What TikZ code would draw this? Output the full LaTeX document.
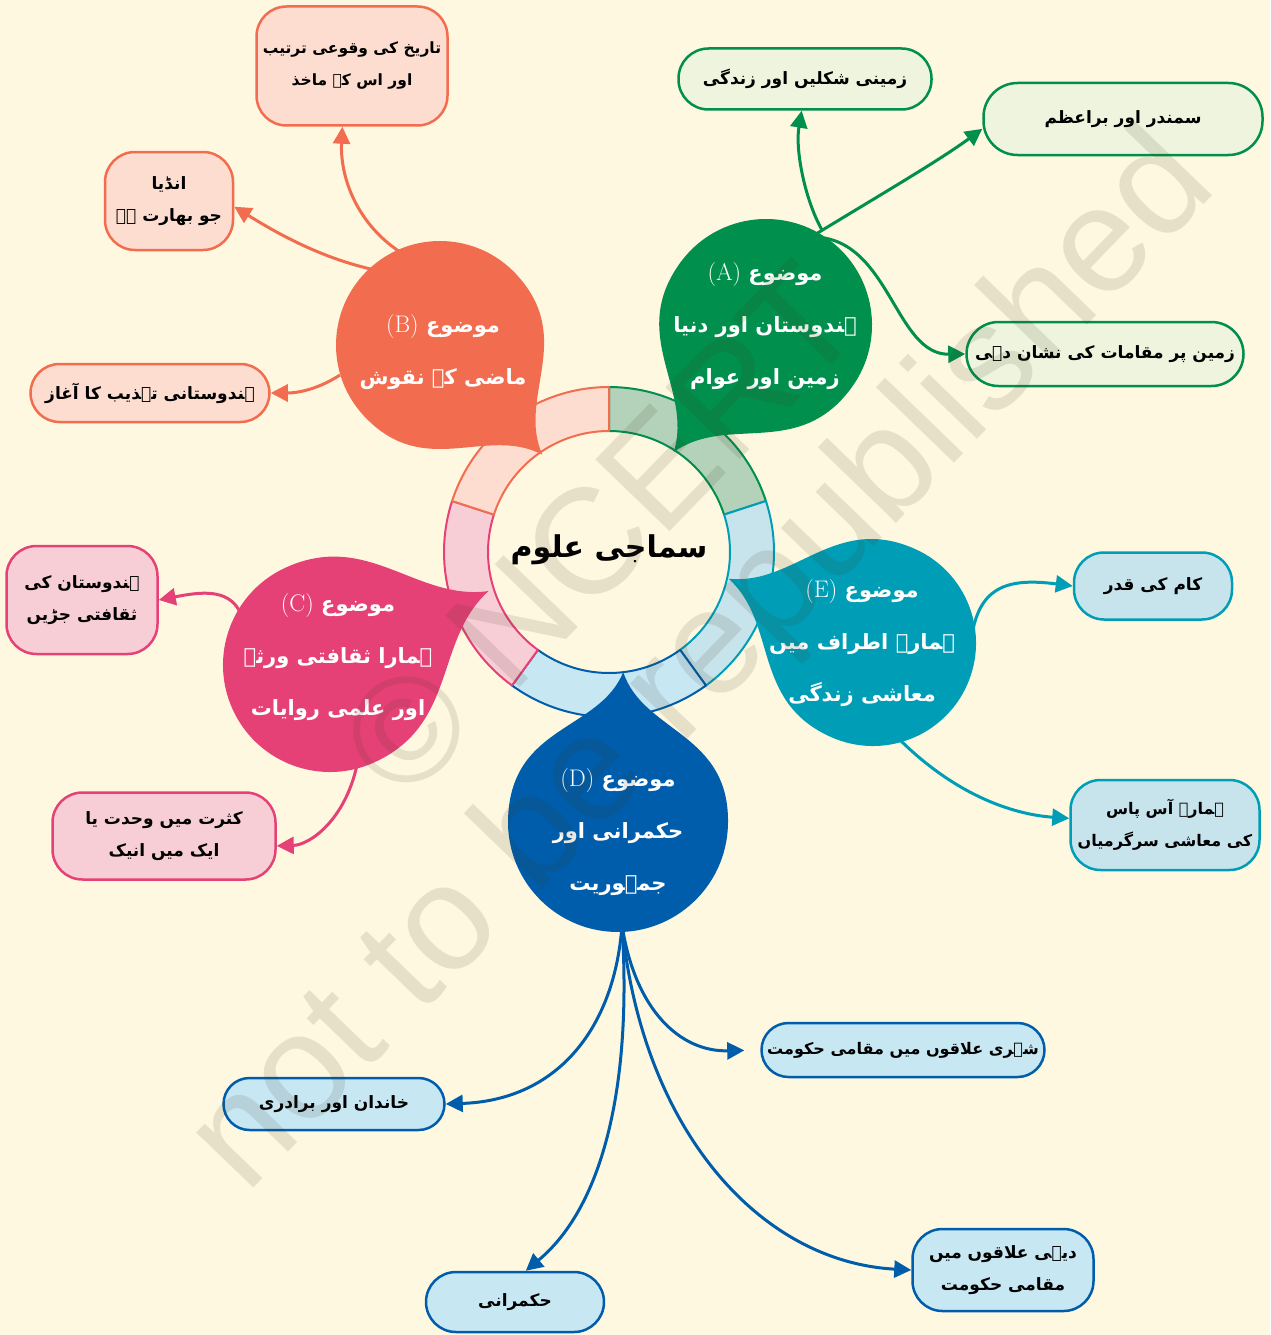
\documentclass[tikz,border=0pt]{standalone}
\usepackage{fontspec}
\usetikzlibrary{arrows.meta}
\TeXXeTstate=1
\newfontfamily\ur[Script=Arabic]{DejaVu Sans}
\newfontfamily\wmfont{Liberation Sans}
\definecolor{bg}{HTML}{FEF8E0}
\definecolor{cA}{HTML}{008F4C}
\definecolor{cB}{HTML}{F26D4F}
\definecolor{cC}{HTML}{E64177}
\definecolor{cD}{HTML}{005DAB}
\definecolor{cE}{HTML}{009EB6}
\definecolor{fA}{HTML}{EEF4DE}
\definecolor{rA}{HTML}{B4D2BA}
\definecolor{fB}{HTML}{FDDDD0}
\definecolor{fC}{HTML}{F8CED6}
\definecolor{fD}{HTML}{C7E7F3}
\definecolor{fE}{HTML}{C7E4EC}
\definecolor{wmcol}{RGB}{60,55,30}
\newcommand\U[1]{\beginR#1\endR}
\newcommand\Lt[1]{\beginL{\rmfamily\mdseries\fontsize{24}{24}\selectfont #1}\endL}
\newcommand\ringseg[4]{%
  \filldraw[fill=#3, draw=#4, line width=2pt, line join=round]
    plot[domain=#1:#2, samples=40] ({609+165*cos(\x)},{552+165*sin(\x)})
    -- plot[domain=#2:#1, samples=40] ({609+121*cos(\x)},{552+121*sin(\x)}) -- cycle;}
\newcommand\mydrop[6]{%
  \begin{scope}[shift={(#2,#3)}, x={({-(#5)}:1pt)}, y={({-(#5)-90}:1pt)}]
  \fill[#1] (#6,0) .. controls ({0.6*#6},{0.2*#4}) and ({0.85*#4},{#4}) .. (0,#4)
    .. controls ({-0.5523*#4},{#4}) and ({-#4},{0.5523*#4}) .. ({-#4},0)
    .. controls ({-#4},{-0.5523*#4}) and ({-0.5523*#4},{-#4}) .. (0,{-#4})
    .. controls ({0.85*#4},{-#4}) and ({0.6*#6},{-0.2*#4}) .. (#6,0) -- cycle;
  \end{scope}}
\tikzset{
  conn/.style={line width=3pt, -{Triangle[length=17pt,width=17pt]}},
  box/.style={line width=2.5pt, align=center, inner sep=0pt, text=black,
    font=\ur\bfseries\fontsize{17}{32}\selectfont},
  droptext/.style={align=center, text=white, font=\ur\bfseries\fontsize{21}{52}\selectfont},
  wm/.style={font=\wmfont\fontsize{150}{150}\selectfont, text=wmcol, text opacity=0.12, inner sep=0pt}
}
\begin{document}
\begin{tikzpicture}[x=1pt,y=-1pt]
\useasboundingbox (0,0) rectangle (1270,1335);
\fill[bg] (0,0) rectangle (1270,1335);
% ring
\ringseg{-90}{-18}{rA}{cA}
\ringseg{-18}{54}{fE}{cE}
\ringseg{54}{126}{fD}{cD}
\ringseg{126}{198}{fC}{cC}
\ringseg{198}{270}{fB}{cB}
\node[font=\ur\bfseries\fontsize{30}{40}\selectfont] (centre) at (609,550) {\U{سماجی علوم}};
% boxes
\node[box, draw=cB, fill=fB, rounded corners=30pt, minimum width=191pt, minimum height=119pt, font=\ur\bfseries\fontsize{15.5}{32}\selectfont] (B1) at (352,66) {\U{تاریخ کی وقوعی ترتیب}\\\U{اور اس کے ماخذ}};
\node[box, draw=cB, fill=fB, rounded corners=30pt, minimum width=128pt, minimum height=98pt] (B2) at (169,201) {\U{انڈیا}\\\U{جو بھارت ہے}};
\node[box, draw=cB, fill=fB, rounded corners=29pt, minimum width=239pt, minimum height=58pt] (B3) at (150,393) {\U{ہندوستانی تہذیب کا آغاز}};
\node[box, draw=cA, fill=fA, rounded corners=30pt, minimum width=253pt, minimum height=61pt] (A1) at (805,79) {\U{زمینی شکلیں اور زندگی}};
\node[box, draw=cA, fill=fA, rounded corners=34pt, minimum width=279pt, minimum height=72pt] (A2) at (1123,119) {\U{سمندر اور براعظم}};
\node[box, draw=cA, fill=fA, rounded corners=32pt, minimum width=277pt, minimum height=64pt] (A3) at (1105,354) {\U{زمین پر مقامات کی نشان دہی}};
\node[box, draw=cC, fill=fC, rounded corners=30pt, minimum width=151pt, minimum height=108pt] (C1) at (82,600) {\U{ہندوستان کی}\\\U{ثقافتی جڑیں}};
\node[box, draw=cC, fill=fC, rounded corners=30pt, minimum width=223pt, minimum height=87pt] (C2) at (164,836) {\U{کثرت میں وحدت یا}\\\U{ایک میں انیک}};
\node[box, draw=cE, fill=fE, rounded corners=30pt, minimum width=158pt, minimum height=67pt] (E1) at (1153,586) {\U{کام کی قدر}};
\node[box, draw=cE, fill=fE, rounded corners=30pt, minimum width=189pt, minimum height=90pt, font=\ur\bfseries\fontsize{16}{32}\selectfont] (E2) at (1165,825) {\U{ہمارے آس پاس}\\\U{کی معاشی سرگرمیاں}};
\node[box, draw=cD, fill=fD, rounded corners=27pt, minimum width=283pt, minimum height=54pt, font=\ur\bfseries\fontsize{16}{32}\selectfont] (D1) at (903,1050) {\U{شہری علاقوں میں مقامی حکومت}};
\node[box, draw=cD, fill=fD, rounded corners=26pt, minimum width=221pt, minimum height=52pt] (D2) at (334,1104) {\U{خاندان اور برادری}};
\node[box, draw=cD, fill=fD, rounded corners=30pt, minimum width=178pt, minimum height=60pt] (D3) at (515,1302) {\U{حکمرانی}};
\node[box, draw=cD, fill=fD, rounded corners=30pt, minimum width=181pt, minimum height=82pt] (D4) at (1003,1270) {\U{دیہی علاقوں میں}\\\U{مقامی حکومت}};
% connector origins
\coordinate (Ao1) at (822,230);
\coordinate (Ao2) at (816,234);
\coordinate (Ao3) at (815,237);
\coordinate (Bo1) at (400,252);
\coordinate (Bo2) at (375,270);
\coordinate (Bo3) at (340,375);
\coordinate (Co1) at (240,612);
\coordinate (Co2) at (357,765);
\coordinate (Eo1) at (972,635);
\coordinate (Eo2) at (898,738);
\coordinate (Do) at (622,925);
% connectors
\draw[conn, cA] (Ao1) .. controls (805,200) and (795,150) .. (A1.264);
\draw[conn, cA] (Ao2) .. controls (880,195) and (940,160) .. (A2.184);
\draw[conn, cA] (Ao3) .. controls (890,240) and (895,355) .. (A3.west);
\draw[conn, cB] (Bo1) .. controls (355,222) and (340,175) .. (B1.261);
\draw[conn, cB] (Bo2) .. controls (320,258) and (275,232) .. (B2.355);
\draw[conn, cB] (Bo3) .. controls (320,388) and (300,393) .. (B3.east);
\draw[conn, cC] (Co1) .. controls (228,588) and (200,592) .. (C1.east);
\draw[conn, cC] (Co2) .. controls (345,820) and (310,845) .. (C2.355);
\draw[conn, cE] (Eo1) .. controls (980,585) and (1010,578) .. (E1.west);
\draw[conn, cE] (Eo2) .. controls (960,800) and (1020,815) .. (E2.176);
\draw[conn, cD, shorten >=16pt] (Do) .. controls (635,1010) and (680,1052) .. (D1.west);
\draw[conn, cD] (Do) .. controls (615,1025) and (560,1100) .. (D2.east);
\draw[conn, cD] (Do) .. controls (632,1080) and (605,1205) .. (D3.71);
\draw[conn, cD] (Do) .. controls (642,1130) and (760,1262) .. (D4.west);
% drops
\mydrop{cA}{766}{325}{106}{126}{157}
\mydrop{cB}{440}{345}{104}{47}{150}
\mydrop{cC}{330}{665}{107}{-25}{175}
\mydrop{cD}{618}{822}{110}{-88}{150}
\mydrop{cE}{873}{643}{103}{204}{158}
% drop texts
\node[droptext] (tA) at (765,326) {\U{موضوع \Lt{(A)}}\\\U{ہندوستان اور دنیا}\\\U{زمین اور عوام}};
\node[droptext] (tB) at (443,352) {\U{موضوع \Lt{(B)}}\\\U{ماضی کے نقوش}};
\node[droptext] (tC) at (338,657) {\U{موضوع \Lt{(C)}}\\\U{ہمارا ثقافتی ورثہ}\\\U{اور علمی روایات}};
\node[droptext] (tD) at (618,832) {\U{موضوع \Lt{(D)}}\\\U{حکمرانی اور}\\\U{جمہوریت}};
\node[droptext] (tE) at (862,643) {\U{موضوع \Lt{(E)}}\\\U{ہمارے اطراف میں}\\\U{معاشی زندگی}};
% watermark
\node[wm, rotate=46] (wm1) at (600,530) {© NCERT};
\node[wm, rotate=46] (wm2) at (705,665) {not to be republished};
\end{tikzpicture}
\end{document}
